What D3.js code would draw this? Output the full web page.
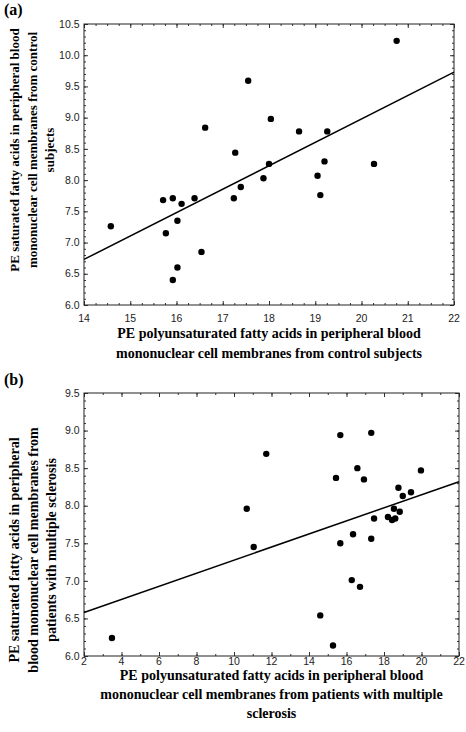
<!DOCTYPE html>
<html><head><meta charset="utf-8">
<script src="https://cdn.jsdelivr.net/npm/d3@7"></script>
<style>body{margin:0;background:#fff}svg{display:block}</style>
</head><body>
<svg id="c" width="466" height="732"></svg>
<script>
// Panel (a): control subjects
const aX = [20.76,17.55,18.04,16.62,18.65,19.26,17.27,19.20,20.27,18.00,19.05,17.88,17.39,17.24,19.11,15.71,15.92,16.39,16.11,16.02,14.58,15.77,16.54,16.02,15.92];
const aY = [10.23,9.59,8.98,8.84,8.78,8.78,8.44,8.30,8.26,8.26,8.07,8.03,7.89,7.71,7.76,7.68,7.71,7.71,7.62,7.35,7.26,7.15,6.85,6.60,6.40];
const aFitX = [14,22];
const aFitY = [6.73,9.73];
const aXTicks = [14,15,16,17,18,19,20,21,22];
const aYTicks = [6.0,6.5,7.0,7.5,8.0,8.5,9.0,9.5,10.0,10.5];

// Panel (b): patients with multiple sclerosis
const bX = [17.32,15.67,11.72,16.58,19.97,15.44,16.93,18.77,19.44,19.00,10.68,18.53,18.84,18.21,17.47,18.60,18.43,16.35,17.32,15.67,11.05,16.28,16.72,14.60,3.49,15.28];
const bY = [8.97,8.94,8.69,8.50,8.47,8.37,8.35,8.24,8.18,8.13,7.96,7.96,7.92,7.85,7.83,7.83,7.81,7.62,7.56,7.50,7.45,7.01,6.92,6.54,6.24,6.14];
const bFitX = [2,22];
const bFitY = [6.58,8.32];
const bXTicks = [2,4,6,8,10,12,14,16,18,20,22];
const bYTicks = [6.0,6.5,7.0,7.5,8.0,8.5,9.0,9.5];

const svg = d3.select("#c");
svg.append("rect").attr("width",466).attr("height",732).attr("fill","#fff");

function panel(o){
  const g = svg.append("g");
  const x = d3.scaleLinear().domain(o.xd).range([o.l,o.r]);
  const y = d3.scaleLinear().domain(o.yd).range([o.b,o.t]);
  const xMinor = d3.range(o.xd[0], o.xd[1]+1e-9, o.xm);
  const yMinor = d3.range(o.yd[0], o.yd[1]+1e-9, o.ym);
  const mk = (axis, sc, ticks, len) => axis(sc).tickValues(ticks).tickSize(len).tickFormat("");
  const addAxis = (a, tr) => {
    const ax = g.append("g").attr("transform",tr).call(a);
    ax.select(".domain").remove();
    ax.selectAll("line").attr("stroke","#333").attr("stroke-width",1);
  };
  addAxis(mk(d3.axisTop, x, xMinor, 2), `translate(0,${o.b})`);
  addAxis(mk(d3.axisTop, x, o.xt, 4), `translate(0,${o.b})`);
  addAxis(mk(d3.axisBottom, x, xMinor, 2), `translate(0,${o.t})`);
  addAxis(mk(d3.axisBottom, x, o.xt, 4), `translate(0,${o.t})`);
  addAxis(mk(d3.axisRight, y, yMinor, 2), `translate(${o.l},0)`);
  addAxis(mk(d3.axisRight, y, o.yt, 4), `translate(${o.l},0)`);
  addAxis(mk(d3.axisLeft, y, yMinor, 2), `translate(${o.r},0)`);
  addAxis(mk(d3.axisLeft, y, o.yt, 4), `translate(${o.r},0)`);
  g.append("rect").attr("x",o.l).attr("y",o.t).attr("width",o.r-o.l).attr("height",o.b-o.t)
    .attr("fill","none").attr("stroke","#222").attr("stroke-width",1);
  g.selectAll(".xl").data(o.xt).join("text")
    .attr("x",d=>x(d)).attr("y",o.b+o.xlab).attr("text-anchor","middle")
    .attr("font-family","Liberation Sans, Arial, sans-serif").attr("font-size",10.5).attr("fill","#222")
    .text(d=>d);
  g.selectAll(".yl").data(o.yt).join("text")
    .attr("x",o.l-4.5).attr("y",d=>y(d)).attr("dy","0.35em").attr("text-anchor","end")
    .attr("font-family","Liberation Sans, Arial, sans-serif").attr("font-size",10.5).attr("fill","#222")
    .text(d=>d.toFixed(1));
  g.append("line").attr("x1",x(o.fx[0])).attr("y1",y(o.fy[0])).attr("x2",x(o.fx[1])).attr("y2",y(o.fy[1]))
    .attr("stroke","#000").attr("stroke-width",1.5);
  g.selectAll("circle").data(o.px.map((v,i)=>[v,o.py[i]])).join("circle")
    .attr("cx",d=>x(d[0])).attr("cy",d=>y(d[1])).attr("r",3.2).attr("fill","#000");
  g.append("text").attr("x",o.labX).attr("y",o.labY).text(o.label)
    .attr("font-family","Liberation Serif, Times New Roman, serif").attr("font-weight","bold").attr("font-size",16);
  const xt = g.append("text").attr("text-anchor","middle")
    .attr("font-family","Liberation Serif, Times New Roman, serif").attr("font-weight","bold").attr("font-size",o.xfs);
  o.xtitle.forEach((s,i)=>xt.append("tspan").attr("x",(o.l+o.r)/2).attr("y",o.xty+i*o.xtl).text(s));
  const yt = g.append("text").attr("text-anchor","middle").attr("transform",`rotate(-90)`)
    .attr("font-family","Liberation Serif, Times New Roman, serif").attr("font-weight","bold").attr("font-size",o.yfs);
  o.ytitle.forEach((s,i)=>yt.append("tspan").attr("x",-o.ytc).attr("y",o.ytx+i*o.ytl).text(s));
}

panel({xd:[14,22], yd:[6,10.5], l:84, r:454, t:24, b:305, xm:0.25, ym:0.1, xt:aXTicks, yt:aYTicks, xlab:17,
  fx:aFitX, fy:aFitY, px:aX, py:aY, label:"(a)", labX:4, labY:15,
  xtitle:["PE polyunsaturated fatty acids in peripheral blood","mononuclear cell membranes from control subjects"],
  xfs:14, xty:338, xtl:20,
  ytitle:["PE saturated fatty acids in peripheral blood","mononuclear cell membranes from control","subjects"],
  yfs:13, ytc:150, ytx:19, ytl:17.5});

panel({xd:[2,22], yd:[6,9.5], l:84, r:459, t:393, b:656, xm:1, ym:0.1, xt:bXTicks, yt:bYTicks, xlab:8.5,
  fx:bFitX, fy:bFitY, px:bX, py:bY, label:"(b)", labX:4, labY:385,
  xtitle:["PE polyunsaturated fatty acids in peripheral blood","mononuclear cell membranes from patients with multiple","sclerosis"],
  xfs:14, xty:680, xtl:19,
  ytitle:["PE saturated fatty acids in peripheral","blood mononuclear cell membranes from","patients with multiple sclerosis"],
  yfs:14, ytc:550, ytx:19, ytl:18.5});
</script>
</body></html>
